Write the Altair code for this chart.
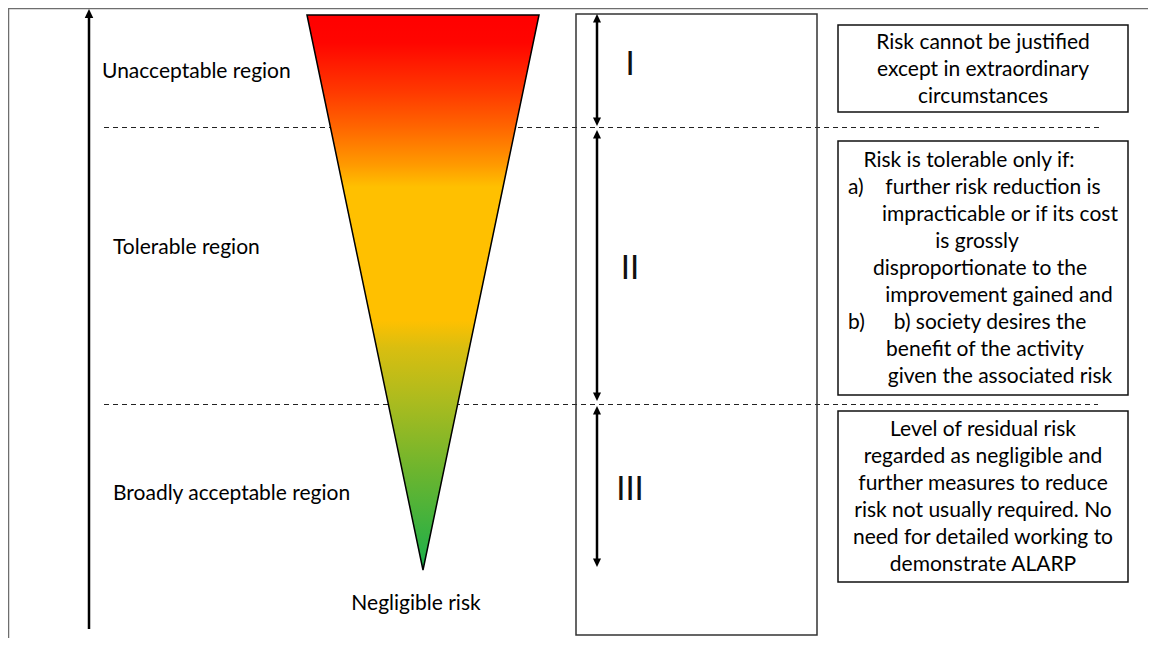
import altair as alt
import pandas as pd

W, H = 1140, 630
FONT = "Lato"
FS = 21

# ---------------- data (reference pixel coordinates) ----------------
frame_x = [8, 8.5]
frame_x2 = [1148, 8.5]
frame_y = [8.5, 8]
frame_y2 = [8.5, 638]

axis_arrow_x = [89]
axis_arrow_tip = [9]
axis_arrow_base = [629]

dash_y = [127.5, 404.5]
dash_x = [104, 104]
dash_x2 = [1100, 1098]

tri_y = [15, 570]
tri_left = [307, 423]
tri_right = [539, 423]
grad_offsets = [0.0, 0.05, 0.14, 0.2, 0.27, 0.31, 0.55, 0.6, 0.7, 0.82, 1.0]
grad_colors = ["#FF0000", "#FF0500", "#FF3A00", "#FF6400", "#FF9A00", "#FFC000",
               "#FFC000", "#D9BE10", "#A9BB1F", "#6DB52E", "#1AAF4B"]

mid_box = dict(x=[576], x2=[817], y=[14], y2=[635])

dbl_x = [597, 597, 597]
dbl_top = [14, 130, 406]
dbl_bottom = [126, 401, 567]

roman = ["I", "II", "III"]
roman_x = [630, 630, 630]
roman_y = [65, 269, 490]

region_labels = ["Unacceptable region", "Tolerable region", "Broadly acceptable region"]
region_x = [102, 113, 113]
region_y = [72, 248, 494]

neg_label = ["Negligible risk"]
neg_x = [416]
neg_y = [604]

rbox_x = [838, 838, 838]
rbox_x2 = [1128, 1128, 1128]
rbox_y = [25, 141, 411]
rbox_y2 = [112, 395, 582]

box_lines = [
    "Risk cannot be justified", "except in extraordinary", "circumstances",
    "Risk is tolerable only if:", "further risk reduction is", "impracticable or if its cost",
    "is grossly", "disproportionate to the", "improvement gained and",
    "b) society desires the", "benefit of the activity", "given the associated risk",
    "Level of residual risk", "regarded as negligible and", "further measures to reduce",
    "risk not usually required.  No", "need for detailed working to", "demonstrate ALARP",
]
box_line_x = [983, 983, 983,
              969, 993, 1000, 977, 980, 999, 990, 985, 1000,
              983, 983, 983, 983, 983, 983]
box_line_y = [43, 70, 97,
              161, 188, 215, 242, 269, 296, 323, 350, 377,
              430, 457, 484, 511, 538, 565]

list_marks = ["a)", "b)"]
list_mark_x = [848, 848]
list_mark_y = [188, 323]

HEAD = 9  # arrowhead length in px

# ---------------- scales ----------------
xs = alt.Scale(domain=[8, 8 + W], nice=False, zero=False)
ys = alt.Scale(domain=[8, 8 + H], nice=False, zero=False, reverse=True)


def X(f):
    return alt.X(f, type="quantitative", scale=xs, axis=None)


def Y(f):
    return alt.Y(f, type="quantitative", scale=ys, axis=None)


# ---------------- layers ----------------
frame = alt.Chart(pd.DataFrame(dict(x=frame_x, x2=frame_x2, y=frame_y, y2=frame_y2))).mark_rule(
    color="#6e6e6e", strokeWidth=1.5
).encode(x=X("x"), x2="x2", y=Y("y"), y2="y2")

ax_df = pd.DataFrame(dict(x=axis_arrow_x, tip=axis_arrow_tip, base=axis_arrow_base))
ax_df["shaft_top"] = ax_df["tip"] + HEAD - 1
axis_shaft = alt.Chart(ax_df).mark_rule(color="black", strokeWidth=2.5).encode(
    x=X("x"), y=Y("shaft_top"), y2="base")
up_shape = "M0,0L-0.95,2L0.95,2Z"
down_shape = "M0,0L-0.95,-2L0.95,-2Z"
axis_head = alt.Chart(ax_df).mark_point(shape=up_shape, size=81, filled=True, color="black",
                                         opacity=1, strokeWidth=0).encode(x=X("x"), y=Y("tip"))

dashes = alt.Chart(pd.DataFrame(dict(y=dash_y, x=dash_x, x2=dash_x2))).mark_rule(
    color="#222222", strokeWidth=1, strokeDash=[5, 4]
).encode(x=X("x"), x2="x2", y=Y("y"))

gradient = alt.Gradient(
    gradient="linear",
    stops=[alt.GradientStop(offset=o, color=c) for o, c in zip(grad_offsets, grad_colors)],
    x1=0, x2=0, y1=0, y2=1,
)
triangle = alt.Chart(pd.DataFrame(dict(y=tri_y, xl=tri_left, xr=tri_right))).mark_area(
    orient="horizontal", fill=gradient, stroke="black", strokeWidth=1.5, strokeJoin="miter", opacity=1
).encode(y=Y("y"), x=X("xl"), x2="xr")

mid = alt.Chart(pd.DataFrame(mid_box)).mark_rect(
    fill="white", fillOpacity=0, stroke="#333333", strokeWidth=1.5
).encode(x=X("x"), x2="x2", y=Y("y"), y2="y2")

dbl_df = pd.DataFrame(dict(x=dbl_x, top=dbl_top, bottom=dbl_bottom))
dbl_df["s_top"] = dbl_df["top"] + HEAD - 1
dbl_df["s_bottom"] = dbl_df["bottom"] - HEAD + 1
dbl_shaft = alt.Chart(dbl_df).mark_rule(color="black", strokeWidth=2.5).encode(
    x=X("x"), y=Y("s_top"), y2="s_bottom")
dbl_up = alt.Chart(dbl_df).mark_point(shape=up_shape, size=72, filled=True, color="black",
                                       opacity=1, strokeWidth=0).encode(x=X("x"), y=Y("top"))
dbl_down = alt.Chart(dbl_df).mark_point(shape=down_shape, size=72, filled=True, color="black",
                                         opacity=1, strokeWidth=0).encode(x=X("x"), y=Y("bottom"))

roman_t = alt.Chart(pd.DataFrame(dict(t=roman, x=roman_x, y=roman_y))).mark_text(
    font=FONT, fontSize=33, fontWeight="normal", color="#111111", align="center", baseline="middle"
).encode(x=X("x"), y=Y("y"), text="t:N")

regions = alt.Chart(pd.DataFrame(dict(t=region_labels, x=region_x, y=region_y))).mark_text(
    font=FONT, fontSize=FS, color="black", align="left", baseline="middle"
).encode(x=X("x"), y=Y("y"), text="t:N")

neg = alt.Chart(pd.DataFrame(dict(t=neg_label, x=neg_x, y=neg_y))).mark_text(
    font=FONT, fontSize=FS, color="black", align="center", baseline="middle"
).encode(x=X("x"), y=Y("y"), text="t:N")

rboxes = alt.Chart(pd.DataFrame(dict(x=rbox_x, x2=rbox_x2, y=rbox_y, y2=rbox_y2))).mark_rect(
    fill="white", stroke="#111111", strokeWidth=1.5
).encode(x=X("x"), x2="x2", y=Y("y"), y2="y2")

rtext = alt.Chart(pd.DataFrame(dict(t=box_lines, x=box_line_x, y=box_line_y))).mark_text(
    font=FONT, fontSize=FS, color="black", align="center", baseline="middle"
).encode(x=X("x"), y=Y("y"), text="t:N")

marks_t = alt.Chart(pd.DataFrame(dict(t=list_marks, x=list_mark_x, y=list_mark_y))).mark_text(
    font=FONT, fontSize=FS, color="black", align="left", baseline="middle"
).encode(x=X("x"), y=Y("y"), text="t:N")

chart = alt.layer(
    frame, dashes, triangle, mid, axis_shaft, axis_head, dbl_shaft, dbl_up, dbl_down,
    roman_t, regions, neg, rboxes, rtext, marks_t
).properties(
    width=W, height=H, padding=0, autosize=alt.AutoSizeParams(type="none"),
    background="white",
).configure_view(strokeWidth=0)

chart.save("out.html", embed_options={"renderer": "svg", "actions": False})
